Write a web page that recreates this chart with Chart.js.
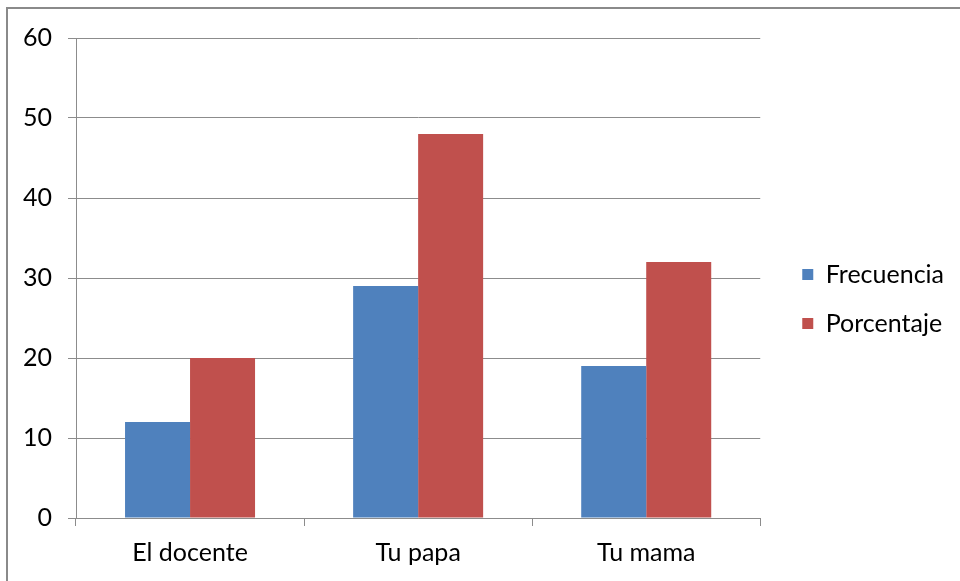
<!DOCTYPE html>
<html>
<head>
<meta charset="utf-8">
<script src="https://cdn.jsdelivr.net/npm/chart.js@4.4.1/dist/chart.umd.min.js"></script>
<style>
  body { margin: 0; background: #fff; overflow: hidden; }
  #marco { position: absolute; left: 6px; top: 7px; width: 1000px; height: 1000px;
           border-left: 2px solid #8a8a8a; border-top: 2px solid #8a8a8a; pointer-events: none; }
  canvas { position: absolute; left: 0; top: 0; }
</style>
</head>
<body>
<canvas id="grafico" width="960" height="581"></canvas>
<div id="marco"></div>
<script>
// Datos
const categorias = ['El docente', 'Tu papa', 'Tu mama'];
const frecuencia = [12, 29, 19];
const porcentaje = [20, 48, 32];
const ticksY = [0, 10, 20, 30, 40, 50, 60];

const fuente = { family: 'Lato', size: 25 };
const gris = '#8c8c8c';

new Chart(document.getElementById('grafico'), {
  type: 'bar',
  data: {
    labels: categorias,
    datasets: [{
      label: 'Frecuencia',
      data: frecuencia,
      backgroundColor: '#4f81bd',
      barPercentage: 1,
      categoryPercentage: 0.57
    }, {
      label: 'Porcentaje',
      data: porcentaje,
      backgroundColor: '#c0504d',
      barPercentage: 1,
      categoryPercentage: 0.57
    }]
  },
  options: {
    responsive: false,
    animation: false,
    layout: { padding: { left: 0, top: 38, right: 6, bottom: 0 } },
    plugins: {
      tooltip: { enabled: false },
      legend: {
        position: 'right',
        fullSize: false,
        maxWidth: 300,
        // titulo vacio para bajar un poco la leyenda
        title: { display: true, text: ' ', font: fuente, padding: 6 },
        labels: {
          boxWidth: 11,
          boxHeight: 11,
          padding: 24,
          color: '#000',
          font: fuente
        }
      }
    },
    scales: {
      x: {
        afterFit: s => { s.height = 63; },
        grid: { offset: true, drawOnChartArea: false, tickLength: 8, color: gris },
        border: { color: gris },
        ticks: { color: '#000', font: fuente, padding: 12, maxRotation: 0 }
      },
      y: {
        min: 0,
        max: 60,
        afterFit: s => { s.width = 76; },
        afterBuildTicks: s => { s.ticks = ticksY.map(v => ({ value: v })); },
        grid: { color: gris, tickLength: 8 },
        border: { color: gris },
        ticks: { color: '#000', font: fuente, padding: 16 }
      },
      // eje vacio a la derecha para separar la leyenda
      derecha: {
        type: 'linear',
        position: 'right',
        afterFit: s => { s.width = 18; },
        grid: { display: false },
        border: { display: false },
        ticks: { display: false }
      }
    }
  }
});
</script>
</body>
</html>
